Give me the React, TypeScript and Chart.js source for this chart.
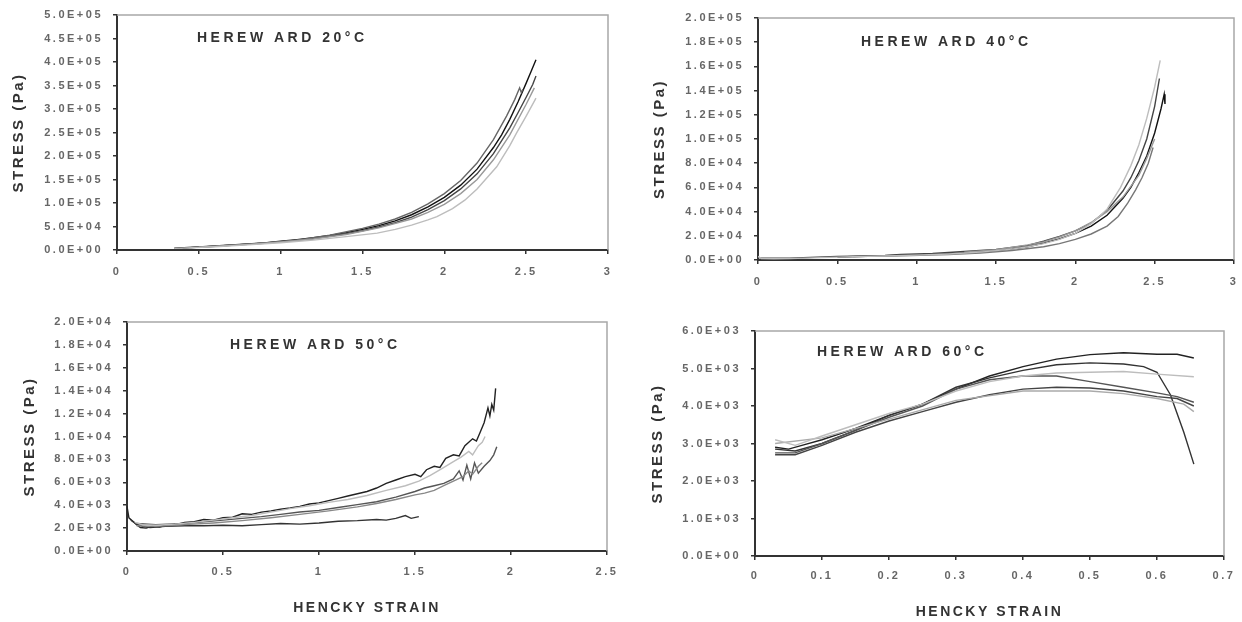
import React, { useEffect, useRef } from 'react';
import { Chart, registerables } from 'chart.js';
Chart.register(...registerables);

type Pt = [number, number];

// ---------- tick values ----------
const X_TICKS_20 = [0, 0.5, 1, 1.5, 2, 2.5, 3];
const Y_TICKS_20 = [0, 5e4, 1e5, 1.5e5, 2e5, 2.5e5, 3e5, 3.5e5, 4e5, 4.5e5, 5e5];
const X_TICKS_40 = [0, 0.5, 1, 1.5, 2, 2.5, 3];
const Y_TICKS_40 = [0, 2e4, 4e4, 6e4, 8e4, 1e5, 1.2e5, 1.4e5, 1.6e5, 1.8e5, 2e5];
const X_TICKS_50 = [0, 0.5, 1, 1.5, 2, 2.5];
const Y_TICKS_50 = [0, 2e3, 4e3, 6e3, 8e3, 1e4, 1.2e4, 1.4e4, 1.6e4, 1.8e4, 2e4];
const X_TICKS_60 = [0, 0.1, 0.2, 0.3, 0.4, 0.5, 0.6, 0.7];
const Y_TICKS_60 = [0, 1e3, 2e3, 3e3, 4e3, 5e3, 6e3];

// ---------- titles ----------
const TITLE_20 = 'HEREW ARD 20°C';
const TITLE_40 = 'HEREW ARD 40°C';
const TITLE_50 = 'HEREW ARD 50°C';
const TITLE_60 = 'HEREW ARD 60°C';
const Y_TITLE = 'STRESS (Pa)';
const X_TITLE = 'HENCKY STRAIN';

// ---------- 20 °C series (strain, stress Pa) ----------
const H20_A: Pt[] = [[0.35,4000],[0.5,6500],[0.7,10500],[0.9,15000],[1.0,18500],[1.1,22000],[1.2,26000],[1.3,31000],[1.4,37000],[1.5,44000],[1.6,52000],[1.7,62000],[1.8,75000],[1.9,92000],[2.0,112000],[2.1,138000],[2.2,172000],[2.3,218000],[2.35,245000],[2.4,278000],[2.45,315000],[2.5,355000],[2.53,380000],[2.56,405000]];
const H20_B: Pt[] = [[0.4,4000],[0.6,8000],[0.8,12500],[1.0,17500],[1.2,24500],[1.4,34500],[1.5,41000],[1.6,49000],[1.7,58000],[1.8,70000],[1.9,86000],[2.0,105000],[2.1,130000],[2.2,162000],[2.3,205000],[2.4,260000],[2.45,292000],[2.5,325000],[2.54,352000],[2.56,370000]];
const H20_C: Pt[] = [[0.45,5000],[0.7,10000],[0.9,14500],[1.1,21000],[1.3,31500],[1.5,46000],[1.6,55000],[1.7,66000],[1.8,80000],[1.9,98000],[2.0,120000],[2.1,148000],[2.2,185000],[2.3,235000],[2.38,285000],[2.43,320000],[2.46,345000],[2.47,335000],[2.48,342000]];
const H20_D: Pt[] = [[0.35,3500],[0.6,7000],[0.8,11000],[1.0,15500],[1.2,21000],[1.4,28500],[1.59,36000],[1.7,44000],[1.8,53000],[1.9,64000],[1.955,71000],[2.05,88000],[2.125,106000],[2.2,130000],[2.32,177000],[2.4,222000],[2.44,248000],[2.5,285000],[2.56,323000]];
const H20_E: Pt[] = [[0.5,6000],[0.8,12000],[1.0,17000],[1.2,23500],[1.4,33000],[1.6,47000],[1.8,66000],[1.9,80000],[2.0,97000],[2.1,120000],[2.2,150000],[2.3,192000],[2.4,245000],[2.5,310000],[2.55,345000]];

// ---------- 40 °C series ----------
const H40_A: Pt[] = [[0,3000],[0.02,1200],[0.1,1000],[0.2,1100],[0.4,2000],[0.6,2800],[0.8,3300],[1.0,4000],[1.2,5000],[1.4,6500],[1.6,9000],[1.7,11000],[1.8,13500],[1.9,17000],[2.0,22000],[2.1,30000],[2.2,42000],[2.285,60000],[2.35,78000],[2.4,95000],[2.45,117000],[2.5,143000],[2.535,165000]];
const H40_B: Pt[] = [[0.01,1500],[0.2,1500],[0.5,3000],[0.6,3200],[0.8,3800],[0.9,4500],[1.1,5400],[1.3,7000],[1.5,8800],[1.7,12000],[1.8,15500],[1.9,19500],[2.0,24000],[2.1,30500],[2.2,41000],[2.3,57000],[2.35,68000],[2.4,82000],[2.45,100000],[2.5,127000],[2.53,150000]];
const H40_C: Pt[] = [[0.5,2500],[0.8,3500],[1.0,4200],[1.2,5200],[1.4,6500],[1.5,7500],[1.6,9000],[1.7,11000],[1.8,14000],[1.9,17500],[2.0,22000],[2.1,28000],[2.2,37000],[2.3,51000],[2.35,60000],[2.4,72000],[2.45,86000],[2.5,105000],[2.54,125000],[2.56,137000],[2.565,129000]];
const H40_D: Pt[] = [[0.6,2800],[0.9,3500],[1.2,4600],[1.4,5800],[1.6,7800],[1.8,11000],[1.9,13500],[2.0,17000],[2.1,21500],[2.2,28000],[2.27,36000],[2.33,47000],[2.38,58000],[2.42,68000],[2.46,80000],[2.49,93000]];
const H40_E: Pt[] = [[1.3,6500],[1.5,8500],[1.7,12500],[1.8,15000],[1.9,19000],[2.0,24000],[2.1,31000],[2.2,40000],[2.3,52000],[2.4,70000],[2.45,84000],[2.5,100000]];

// ---------- 50 °C series ----------
const H50_A: Pt[] = [[0,3900],[0.01,2900],[0.03,2600],[0.05,2300],[0.07,2050],[0.1,2000],[0.13,2150],[0.17,2100],[0.2,2250],[0.25,2300],[0.3,2500],[0.35,2550],[0.4,2750],[0.45,2700],[0.5,2900],[0.55,2950],[0.6,3250],[0.65,3200],[0.7,3400],[0.75,3500],[0.8,3650],[0.85,3750],[0.9,3900],[0.95,4100],[1.0,4200],[1.05,4400],[1.1,4600],[1.15,4800],[1.2,5000],[1.25,5200],[1.3,5500],[1.35,5900],[1.4,6200],[1.45,6500],[1.5,6700],[1.53,6500],[1.56,7100],[1.6,7400],[1.63,7300],[1.66,8100],[1.7,8400],[1.73,8300],[1.76,9200],[1.8,9800],[1.82,9600],[1.84,10400],[1.86,11200],[1.88,12500],[1.89,11800],[1.9,12800],[1.91,12300],[1.92,14200]];
const H50_B: Pt[] = [[0.04,2500],[0.08,2300],[0.15,2250],[0.25,2350],[0.35,2500],[0.45,2700],[0.55,2900],[0.65,3100],[0.75,3400],[0.85,3700],[0.95,3950],[1.05,4250],[1.15,4500],[1.25,4850],[1.35,5300],[1.45,5700],[1.52,6100],[1.58,6600],[1.64,7200],[1.7,7800],[1.74,8200],[1.78,8700],[1.8,8400],[1.83,9200],[1.85,9500],[1.865,10000]];
const H50_C: Pt[] = [[0.05,2400],[0.15,2300],[0.3,2400],[0.4,2550],[0.5,2700],[0.6,2850],[0.7,3000],[0.8,3200],[0.9,3400],[1.0,3550],[1.1,3800],[1.2,4050],[1.3,4300],[1.4,4700],[1.5,5200],[1.55,5500],[1.6,5700],[1.65,5900],[1.7,6300],[1.73,7000],[1.75,6200],[1.77,7500],[1.79,6300],[1.81,7700],[1.83,6800],[1.86,7400],[1.89,7900],[1.91,8400],[1.926,9100]];
const H50_D: Pt[] = [[0.05,2200],[0.15,2150],[0.3,2300],[0.45,2450],[0.6,2650],[0.75,2900],[0.9,3200],[1.05,3500],[1.2,3850],[1.3,4150],[1.4,4500],[1.5,4900],[1.55,5050],[1.6,5300],[1.65,5700],[1.7,6100],[1.75,6500],[1.78,7000],[1.8,6700],[1.83,7400],[1.85,7700]];
const H50_E: Pt[] = [[0.02,2700],[0.05,2350],[0.08,2150],[0.12,2050],[0.2,2150],[0.3,2200],[0.4,2200],[0.5,2250],[0.6,2200],[0.7,2300],[0.8,2400],[0.9,2350],[1.0,2450],[1.1,2600],[1.2,2650],[1.3,2750],[1.35,2700],[1.4,2850],[1.45,3100],[1.48,2850],[1.52,3000]];

// ---------- 60 °C series ----------
const H60_A: Pt[] = [[0.03,2900],[0.05,2850],[0.07,2950],[0.1,3100],[0.15,3400],[0.2,3750],[0.25,4050],[0.3,4450],[0.35,4800],[0.4,5050],[0.45,5250],[0.5,5370],[0.55,5420],[0.6,5380],[0.63,5380],[0.655,5280]];
const H60_B: Pt[] = [[0.03,2850],[0.06,2800],[0.1,3000],[0.15,3350],[0.2,3750],[0.25,4050],[0.3,4500],[0.35,4750],[0.4,4950],[0.45,5100],[0.5,5150],[0.55,5120],[0.58,5050],[0.6,4900],[0.62,4300],[0.64,3300],[0.655,2450]];
const H60_C: Pt[] = [[0.03,3100],[0.06,2950],[0.1,3200],[0.15,3500],[0.2,3800],[0.25,4050],[0.3,4400],[0.35,4650],[0.4,4800],[0.45,4880],[0.5,4900],[0.55,4920],[0.6,4850],[0.655,4780]];
const H60_D: Pt[] = [[0.03,2750],[0.06,2750],[0.1,3000],[0.15,3350],[0.2,3700],[0.25,4000],[0.3,4450],[0.35,4700],[0.4,4800],[0.45,4800],[0.5,4650],[0.55,4500],[0.6,4350],[0.63,4250],[0.655,4100]];
const H60_E: Pt[] = [[0.03,2700],[0.06,2700],[0.1,2950],[0.15,3300],[0.2,3600],[0.25,3850],[0.3,4100],[0.35,4300],[0.4,4450],[0.45,4500],[0.5,4480],[0.55,4400],[0.6,4250],[0.63,4200],[0.655,4000]];
const H60_F: Pt[] = [[0.03,3000],[0.1,3150],[0.2,3650],[0.3,4150],[0.4,4400],[0.5,4400],[0.55,4330],[0.6,4200],[0.64,4050],[0.655,3850]];

type Curve = { pts: Pt[]; color: string; dash?: number[] };
type PanelCfg = {
  left: number; top: number; w: number; h: number;
  area: { l: number; t: number; r: number; b: number };
  xMin: number; xMax: number; yMin: number; yMax: number;
  xTicks: number[]; yTicks: number[];
  title: string; titlePos: [number, number];
  yTitlePad: number; xTitle: boolean; xTitlePad: number; xTickPad: number;
  curves: Curve[];
};

const FONT = "'Liberation Sans', Arial, sans-serif";

function fmtE(v: number): string {
  if (Math.abs(v) < 1e-9) return '0.0E+00';
  let e = Math.floor(Math.log10(Math.abs(v)) + 1e-9);
  let m = v / Math.pow(10, e);
  if (m >= 9.995) { m /= 10; e += 1; }
  return m.toFixed(1) + 'E+' + (e < 10 ? '0' + e : String(e));
}
function fmtX(v: number): string {
  return String(Number(v.toFixed(2)));
}

const PANELS: PanelCfg[] = [
  {
    left: 0, top: 0, w: 620, h: 300, area: { l: 117, t: 15, r: 608, b: 250 },
    xMin: 0, xMax: 3, yMin: 0, yMax: 5e5, xTicks: X_TICKS_20, yTicks: Y_TICKS_20,
    title: TITLE_20, titlePos: [197, 38], yTitlePad: 10, xTitle: false, xTitlePad: 0, xTickPad: 11,
    curves: [
      { pts: H20_D, color: '#bdbdbd' }, { pts: H20_E, color: '#999999' },
      { pts: H20_C, color: '#666666' }, { pts: H20_B, color: '#444444' }, { pts: H20_A, color: '#111111' },
    ],
  },
  {
    left: 620, top: 0, w: 622, h: 300, area: { l: 138, t: 18, r: 614, b: 260 },
    xMin: 0, xMax: 3, yMin: 0, yMax: 2e5, xTicks: X_TICKS_40, yTicks: Y_TICKS_40,
    title: TITLE_40, titlePos: [241, 42], yTitlePad: 31, xTitle: false, xTitlePad: 0, xTickPad: 11,
    curves: [
      { pts: H40_A, color: '#bdbdbd' }, { pts: H40_E, color: '#999999' }, { pts: H40_D, color: '#777777' },
      { pts: H40_B, color: '#444444' }, { pts: H40_C, color: '#111111' },
    ],
  },
  {
    left: 0, top: 300, w: 620, h: 322, area: { l: 127, t: 22, r: 607, b: 251 },
    xMin: 0, xMax: 2.5, yMin: 0, yMax: 2e4, xTicks: X_TICKS_50, yTicks: Y_TICKS_50,
    title: TITLE_50, titlePos: [230, 45], yTitlePad: 21, xTitle: true, xTitlePad: 5.6, xTickPad: 10,
    curves: [
      { pts: H50_B, color: '#bdbdbd' }, { pts: H50_D, color: '#888888' }, { pts: H50_C, color: '#555555' },
      { pts: H50_E, color: '#333333' }, { pts: H50_A, color: '#222222' },
    ],
  },
  {
    left: 620, top: 300, w: 622, h: 322, area: { l: 135, t: 31, r: 604, b: 256 },
    xMin: 0, xMax: 0.7, yMin: 0, yMax: 6e3, xTicks: X_TICKS_60, yTicks: Y_TICKS_60,
    title: TITLE_60, titlePos: [197, 52], yTitlePad: 29, xTitle: true, xTitlePad: 1.6, xTickPad: 9,
    curves: [
      { pts: H60_C, color: '#bdbdbd' }, { pts: H60_F, color: '#aaaaaa' }, { pts: H60_E, color: '#444444' },
      { pts: H60_D, color: '#555555' }, { pts: H60_B, color: '#333333' }, { pts: H60_A, color: '#222222' },
    ],
  },
];

function setSpacing(chart: any) {
  try { (chart.ctx as any).letterSpacing = '2.5px'; } catch (e) { /* ignore */ }
}

function makeChart(canvas: HTMLCanvasElement, p: PanelCfg) {
  const framePlugin = {
    id: 'frame',
    beforeUpdate: setSpacing,
    beforeLayout: setSpacing,
    beforeDraw: setSpacing,
    beforeDatasetsDraw(chart: any) {
      const { ctx, chartArea: a } = chart;
      ctx.save();
      ctx.strokeStyle = '#a8a8a8';
      ctx.lineWidth = 1.5;
      ctx.beginPath();
      ctx.moveTo(a.left, a.top);
      ctx.lineTo(a.right, a.top);
      ctx.lineTo(a.right, a.bottom);
      ctx.stroke();
      ctx.restore();
    },
    afterDraw(chart: any) {
      const ctx = chart.ctx;
      ctx.save();
      try { ctx.letterSpacing = '3.5px'; } catch (e) { /* ignore */ }
      ctx.font = `bold 14px ${FONT}`;
      ctx.fillStyle = '#333333';
      ctx.textAlign = 'left';
      ctx.textBaseline = 'middle';
      ctx.fillText(p.title, p.titlePos[0], p.titlePos[1]);
      ctx.restore();
    },
  };

  const tickFont = { family: FONT, size: 11, weight: 'bold' as const };
  const titleFont = { family: FONT, size: 15, weight: 'bold' as const };

  return new Chart(canvas, {
    type: 'scatter',
    data: {
      datasets: p.curves.map((c) => ({
        data: c.pts.map(([x, y]) => ({ x, y })),
        showLine: true,
        borderColor: c.color,
        backgroundColor: c.color,
        borderWidth: 1.4,
        borderDash: c.dash || [],
        pointRadius: 0,
        fill: false,
        tension: 0,
      })),
    },
    options: {
      animation: false,
      responsive: false,
      events: [],
      layout: { padding: { left: 0, top: p.area.t, right: p.w - p.area.r, bottom: 0 } },
      plugins: { legend: { display: false }, tooltip: { enabled: false }, title: { display: false } },
      scales: {
        x: {
          type: 'linear',
          min: p.xMin,
          max: p.xMax,
          afterBuildTicks: (s: any) => { s.ticks = p.xTicks.map((v) => ({ value: v })); },
          afterFit: (s: any) => {
            s.height = p.h - p.area.b;
            s.paddingLeft = 0;
            s.paddingRight = 0;
          },
          ticks: {
            callback: (v: any) => fmtX(Number(v)),
            font: tickFont, color: '#666666', padding: p.xTickPad, maxRotation: 0, autoSkip: false,
          },
          grid: { display: true, drawOnChartArea: false, drawTicks: true, tickLength: 4, color: '#333333', lineWidth: 1.5 },
          border: { display: true, color: '#333333', width: 2 },
          title: {
            display: p.xTitle, text: X_TITLE, color: '#333333',
            font: { family: FONT, size: 14, weight: 'bold' as const },
            padding: { top: 0, bottom: p.xTitlePad },
          },
        },
        y: {
          type: 'linear',
          min: p.yMin,
          max: p.yMax,
          afterBuildTicks: (s: any) => { s.ticks = p.yTicks.map((v) => ({ value: v })); },
          afterFit: (s: any) => {
            s.width = p.area.l;
            s.paddingTop = 0;
            s.paddingBottom = 0;
          },
          ticks: {
            callback: (v: any) => fmtE(Number(v)),
            font: tickFont, color: '#666666', padding: 10, autoSkip: false,
          },
          grid: { display: true, drawOnChartArea: false, drawTicks: true, tickLength: 4, color: '#333333', lineWidth: 1.5 },
          border: { display: true, color: '#333333', width: 2 },
          title: {
            display: true, text: Y_TITLE, color: '#333333', font: titleFont,
            padding: { top: p.yTitlePad, bottom: 0 },
          },
        },
      },
    },
    plugins: [framePlugin],
  } as any);
}

function Panel({ p }: { p: PanelCfg }) {
  const ref = useRef<HTMLCanvasElement | null>(null);
  useEffect(() => {
    if (!ref.current) return;
    const chart = makeChart(ref.current, p);
    return () => { chart.destroy(); };
  }, [p]);
  return (
    <canvas
      ref={ref}
      width={p.w}
      height={p.h}
      style={{ position: 'absolute', left: p.left, top: p.top, width: p.w, height: p.h }}
    />
  );
}

export default function App() {
  return (
    <div style={{ position: 'absolute', left: 0, top: 0, width: 1242, height: 622, background: '#ffffff', overflow: 'hidden' }}>
      {PANELS.map((p, i) => <Panel key={i} p={p} />)}
    </div>
  );
}
